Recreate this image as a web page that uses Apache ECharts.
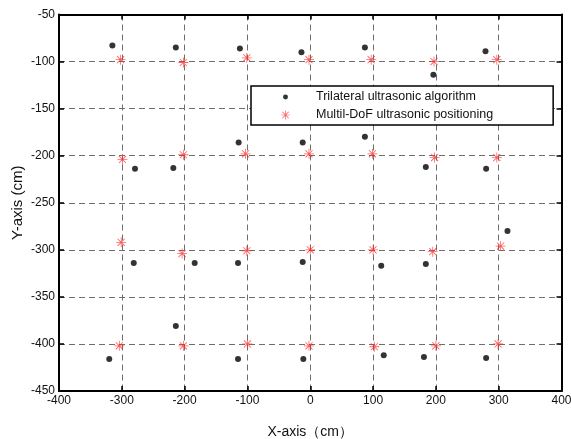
<!DOCTYPE html>
<html>
<head>
<meta charset="utf-8">
<script src="https://cdn.jsdelivr.net/npm/echarts@6/dist/echarts.min.js"></script>
<style>
  html, body { margin: 0; padding: 0; background: #fff; }
  #chart { width: 571px; height: 439px; }
</style>
</head>
<body>
<div id="chart"></div>
<script>
// trilateral algorithm estimates (cm)
var trilateralX = [-315, -214, -112, -14, 87, 196, 279,
                   -279, -218, -114, -12, 87, 184, 280,
                   -281, -184, -115, -12, 113, 184, 314,
                   -320, -214, -115, -11, 117, 181, 280];
var trilateralY = [-83, -85, -86, -90, -85, -114, -89,
                   -214, -213, -186, -186, -180, -212, -214,
                   -314, -314, -314, -313, -317, -315, -280,
                   -416, -381, -416, -416, -412, -414, -415];
// multi-DoF positioning estimates (cm)
var multiDofX = [-302, -202, -101, -2, 97, 197, 297,
                 -299, -202, -103, -2, 99, 198, 297,
                 -301, -204, -101, 0, 100, 195, 303,
                 -304, -202, -100, -2, 102, 200, 299];
var multiDofY = [-98, -101, -96, -98, -98, -100, -98,
                 -204, -199, -198, -198, -198, -202, -202,
                 -292, -304, -301, -300, -300, -302, -296,
                 -402, -402, -400, -402, -403, -402, -400];
var seriesNames = ['Trilateral ultrasonic algorithm', 'Multil-DoF ultrasonic positioning'];

function pairs(xs, ys) {
    return xs.map(function (x, i) { return [x, ys[i]]; });
}

// asterisk marker: plus + cross
var starPath = 'path://M9.2,0h1.6v20h-1.6z M0,9.2h20v1.6h-20z ' +
    'M3.5,2.3L17.7,16.5L16.5,17.7L2.3,3.5z M16.5,2.3L17.7,3.5L3.5,17.7L2.3,16.5z';
// small dot inside a larger empty box, so the legend icon stays small
var dotIcon = 'path://M0,0L0,0M20,20L20,20M10,4.5A5.5,5.5,0,1,1,9.99,4.5z';

var font = 'Liberation Sans';
var dashed = {show: true, lineStyle: {color: '#6e6e6e', type: [6, 4], width: 1}};
var frameLine = {show: true, onZero: false, lineStyle: {color: '#000', width: 2}};
var tickIn = {show: true, inside: true, length: 5, lineStyle: {color: '#000', width: 1.5}};

var chart = echarts.init(document.getElementById('chart'));
chart.setOption({
    backgroundColor: '#fff',
    animation: false,
    grid: {left: 59, top: 14.5, right: 9.5, bottom: 48, containLabel: false, outerBoundsMode: 'none'},
    legend: {
        orient: 'vertical',
        left: 251,
        top: 86,
        padding: [4, 60, 3, 30],
        itemWidth: 9,
        itemHeight: 9,
        itemGap: 4,
        backgroundColor: '#fff',
        borderColor: '#000',
        borderWidth: 1.5,
        borderRadius: 0,
        textStyle: {fontFamily: font, fontSize: 12.5, color: '#111', lineHeight: 14, padding: [0, 0, 0, 21]},
        data: [{name: seriesNames[0], icon: dotIcon}, {name: seriesNames[1]}]
    },
    xAxis: [{
        type: 'value', min: -400, max: 400, interval: 100,
        name: 'X-axis（cm）', nameLocation: 'middle', nameGap: 34, nameMoveOverlap: false,
        nameTextStyle: {fontFamily: font, fontSize: 14, color: '#111'},
        axisLine: frameLine, axisTick: tickIn,
        axisLabel: {fontFamily: font, fontSize: 12, color: '#111', margin: 4},
        splitLine: dashed
    }, {
        type: 'value', position: 'top', min: -400, max: 400, interval: 100,
        axisLine: frameLine, axisTick: tickIn, axisLabel: {show: false}, splitLine: {show: false}
    }],
    yAxis: [{
        type: 'value', min: -450, max: -50, interval: 50,
        name: 'Y-axis (cm)', nameLocation: 'middle', nameGap: 34, nameMoveOverlap: false,
        nameTextStyle: {fontFamily: font, fontSize: 15, color: '#111'},
        axisLine: frameLine, axisTick: tickIn,
        axisLabel: {fontFamily: font, fontSize: 12, color: '#111', margin: 4},
        splitLine: dashed
    }, {
        type: 'value', position: 'right', min: -450, max: -50, interval: 50,
        axisLine: frameLine, axisTick: tickIn, axisLabel: {show: false}, splitLine: {show: false}
    }],
    series: [{
        name: seriesNames[0],
        type: 'scatter',
        symbol: 'circle',
        symbolSize: 6,
        itemStyle: {color: '#000'},
        data: pairs(trilateralX, trilateralY)
    }, {
        name: seriesNames[1],
        type: 'scatter',
        symbol: starPath,
        symbolSize: 10,
        itemStyle: {color: '#ff2a2a', opacity: 0.75},
        data: pairs(multiDofX, multiDofY)
    }]
});
</script>
</body>
</html>
